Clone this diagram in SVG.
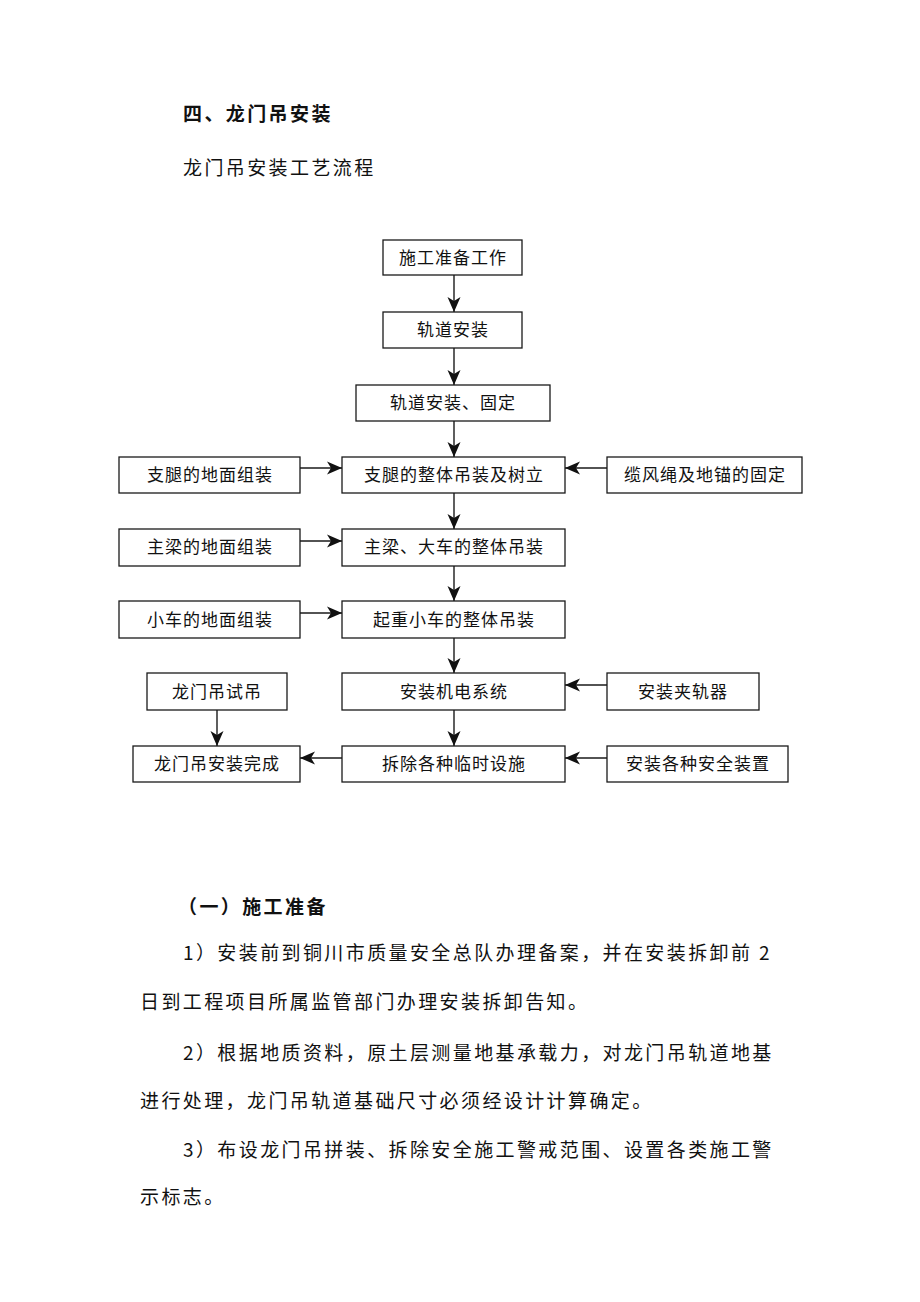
<svg xmlns="http://www.w3.org/2000/svg" width="920" height="1302" viewBox="0 0 920 1302">
<style>
text{font-family:"Noto Sans CJK SC","Noto Sans",sans-serif;fill:#111}
.h{font-size:19px;font-weight:bold;letter-spacing:2.4px}
.t{font-size:19px;letter-spacing:2.4px}
.b{fill:#fff;stroke:#1a1a1a;stroke-width:1.3}
.n text{font-size:17px;letter-spacing:1px;text-anchor:middle}
.c line{stroke:#1a1a1a;stroke-width:1.4;marker-end:url(#ah)}
</style>
<defs>
<marker id="ah" markerUnits="userSpaceOnUse" markerWidth="16" markerHeight="14" refX="15" refY="7" orient="auto">
<path d="M0,0.5 L15,7 L0,13.5 L4,7 z" fill="#111"/>
</marker>
</defs>
<rect width="920" height="1302" fill="#fff"/>
<text class="h" x="183" y="121">四、龙门吊安装</text>
<text class="t" x="183" y="175">龙门吊安装工艺流程</text>

<g class="c">
<line x1="454" y1="275" x2="454" y2="312"/>
<line x1="454" y1="348" x2="454" y2="385"/>
<line x1="454" y1="421" x2="454" y2="457"/>
<line x1="454" y1="493" x2="454" y2="529"/>
<line x1="454" y1="566" x2="454" y2="601"/>
<line x1="454" y1="638" x2="454" y2="673"/>
<line x1="454" y1="710" x2="454" y2="746"/>
<line x1="217" y1="710" x2="217" y2="746"/>
<line x1="300" y1="468" x2="342" y2="468"/>
<line x1="607" y1="468" x2="565" y2="468"/>
<line x1="300" y1="541" x2="342" y2="541"/>
<line x1="300" y1="613" x2="342" y2="613"/>
<line x1="607" y1="685" x2="565" y2="685"/>
<line x1="607" y1="758" x2="565" y2="758"/>
<line x1="342" y1="758" x2="300" y2="758"/>
</g>

<g class="n" id="n1"><rect class="b" x="383" y="240" width="139" height="35"/><text x="453" y="264">施工准备工作</text></g>
<g class="n" id="n2"><rect class="b" x="383" y="312" width="139" height="36"/><text x="453" y="336">轨道安装</text></g>
<g class="n" id="n3"><rect class="b" x="356" y="385" width="194" height="36"/><text x="453" y="409">轨道安装、固定</text></g>
<g class="n" id="n4"><rect class="b" x="119" y="457" width="181" height="36"/><text x="210" y="481">支腿的地面组装</text></g>
<g class="n" id="n5"><rect class="b" x="342" y="457" width="223" height="36"/><text x="454" y="481">支腿的整体吊装及树立</text></g>
<g class="n" id="n6"><rect class="b" x="607" y="457" width="195" height="36"/><text x="705" y="481">缆风绳及地锚的固定</text></g>
<g class="n" id="n7"><rect class="b" x="119" y="529" width="181" height="37"/><text x="210" y="553">主梁的地面组装</text></g>
<g class="n" id="n8"><rect class="b" x="342" y="529" width="223" height="37"/><text x="454" y="553">主梁、大车的整体吊装</text></g>
<g class="n" id="n9"><rect class="b" x="119" y="601" width="181" height="37"/><text x="210" y="626">小车的地面组装</text></g>
<g class="n" id="n10"><rect class="b" x="342" y="601" width="223" height="37"/><text x="454" y="626">起重小车的整体吊装</text></g>
<g class="n" id="n11"><rect class="b" x="147" y="673" width="140" height="37"/><text x="217" y="698">龙门吊试吊</text></g>
<g class="n" id="n12"><rect class="b" x="342" y="673" width="223" height="37"/><text x="454" y="698">安装机电系统</text></g>
<g class="n" id="n13"><rect class="b" x="607" y="673" width="152" height="37"/><text x="683" y="698">安装夹轨器</text></g>
<g class="n" id="n14"><rect class="b" x="133" y="746" width="167" height="36"/><text x="217" y="770">龙门吊安装完成</text></g>
<g class="n" id="n15"><rect class="b" x="342" y="746" width="223" height="36"/><text x="454" y="770">拆除各种临时设施</text></g>
<g class="n" id="n16"><rect class="b" x="607" y="746" width="181" height="36"/><text x="698" y="770">安装各种安全装置</text></g>

<text class="h" x="178" y="914">（一）施工准备</text>
<text class="t" x="183" y="960">1）安装前到铜川市质量安全总队办理备案，并在安装拆卸前 2</text>
<text class="t" x="140" y="1009">日到工程项目所属监管部门办理安装拆卸告知。</text>
<text class="t" x="183" y="1060">2）根据地质资料，原土层测量地基承载力，对龙门吊轨道地基</text>
<text class="t" x="140" y="1108">进行处理，龙门吊轨道基础尺寸必须经设计计算确定。</text>
<text class="t" x="183" y="1157">3）布设龙门吊拼装、拆除安全施工警戒范围、设置各类施工警</text>
<text class="t" x="140" y="1204">示标志。</text>
</svg>
